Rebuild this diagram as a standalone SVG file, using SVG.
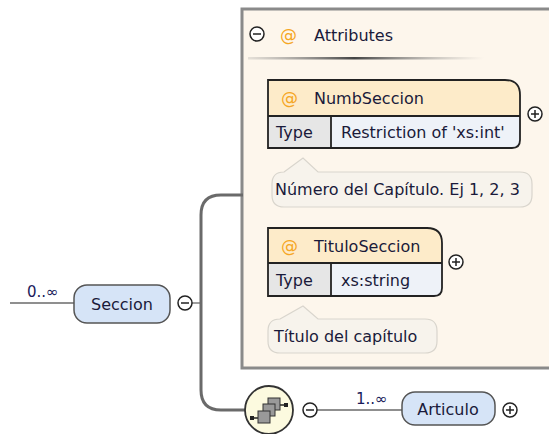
<svg xmlns="http://www.w3.org/2000/svg" width="549" height="434" viewBox="0 0 549 434">
  <defs>
    <style>
      .t { font-family: "DejaVu Sans", Verdana, sans-serif; font-size: 16px; fill: #1a1a3a; }
      .ann { font-family: "DejaVu Sans", Verdana, sans-serif; font-size: 16px; fill: #1a1a3a; }
      .at { font-family: "DejaVu Sans", Verdana, sans-serif; font-size: 17px; fill: #f5a623; }
      .card { font-family: "DejaVu Sans", Verdana, sans-serif; font-size: 15px; fill: #1a1a5a; }
      .conn { fill: none; stroke: #6a6a6a; stroke-width: 3; }
      .thin { fill: none; stroke: #6a6a6a; stroke-width: 1.3; }
      .node { fill: #d6e4f7; stroke: #555; stroke-width: 1.5; }
      .tog { fill: #fff; stroke: #222; stroke-width: 1.5; }
      .togl { stroke: #222; stroke-width: 1.5; }
      .hdr { fill: #fdebc9; }
      .typek { fill: #e6e6e6; }
      .typev { fill: #eef2f8; }
      .frame { fill: none; stroke: #222; stroke-width: 1.8; }
      .bubble { fill: #f7f3ec; stroke: #d9d5cd; stroke-width: 1.2; }
      .sq { fill: #999; stroke: #333; stroke-width: 1; }
    </style>
    <linearGradient id="sep" x1="0" x2="1" y1="0" y2="0">
      <stop offset="0" stop-color="#888" stop-opacity="0.2"/>
      <stop offset="0.45" stop-color="#444"/>
      <stop offset="1" stop-color="#999" stop-opacity="0"/>
    </linearGradient>
  </defs>

  <rect width="549" height="434" fill="#ffffff"/>

  <!-- attribute group panel -->
  <g id="attributes">
    <rect x="242" y="9" width="312" height="359" fill="#fdf6ec" stroke="#8a8a8a" stroke-width="3"/>
    <circle class="tog" cx="257" cy="34" r="7"/>
    <line class="togl" x1="253" y1="34" x2="261" y2="34"/>
    <text class="at" x="280" y="41">@</text>
    <text class="t" x="314" y="41">Attributes</text>
    <rect x="248" y="57" width="236" height="2.5" fill="url(#sep)"/>
  </g>

  <!-- connectors -->
  <g id="connectors">
    <line class="thin" x1="10" y1="303" x2="74" y2="303"/>
    <line class="thin" x1="192" y1="303" x2="201" y2="303"/>
    <path class="conn" d="M243 195 H221 Q201 195 201 215 V390 Q201 410 221 410 H245"/>
    <line class="thin" x1="317" y1="410" x2="402" y2="410"/>
  </g>

  <!-- Seccion element -->
  <g id="seccion">
    <text class="card" x="27" y="297">0..∞</text>
    <rect class="node" x="74" y="285" width="96" height="38" rx="13"/>
    <text class="t" x="122" y="310" text-anchor="middle">Seccion</text>
    <circle class="tog" cx="185" cy="303" r="7"/>
    <line class="togl" x1="181" y1="303" x2="189" y2="303"/>
  </g>

  <!-- NumbSeccion attribute -->
  <g id="numbseccion">
    <path class="hdr" d="M268 80 H505 Q520 80 520 95 V116 H268 Z"/>
    <rect class="typek" x="268" y="116" width="63" height="32"/>
    <path class="typev" d="M331 116 H520 V140 Q520 148 512 148 H331 Z"/>
    <path class="frame" d="M268 80 H505 Q520 80 520 95 V140 Q520 148 512 148 H268 Z"/>
    <line class="frame" x1="268" y1="116" x2="520" y2="116"/>
    <line class="frame" x1="331" y1="116" x2="331" y2="148"/>
    <text class="at" x="281" y="104">@</text>
    <text class="t" x="314" y="104">NumbSeccion</text>
    <text class="t" x="276" y="138">Type</text>
    <text class="t" x="341" y="138">Restriction of 'xs:int'</text>
    <circle class="tog" cx="535" cy="114" r="7"/>
    <line class="togl" x1="531" y1="114" x2="539" y2="114"/>
    <line class="togl" x1="535" y1="110" x2="535" y2="118"/>
    <path class="bubble" d="M284 172 L303 158 L318 172 H520 Q532 172 532 184 V195 Q532 207 520 207 H284 Q272 207 272 195 V184 Q272 172 284 172 Z"/>
    <text class="ann" x="275" y="195">Número del Capítulo. Ej 1, 2, 3</text>
  </g>

  <!-- TituloSeccion attribute -->
  <g id="tituloseccion">
    <path class="hdr" d="M268 228 H427 Q442 228 442 243 V263 H268 Z"/>
    <rect class="typek" x="268" y="263" width="63" height="33"/>
    <path class="typev" d="M331 263 H442 V288 Q442 296 434 296 H331 Z"/>
    <path class="frame" d="M268 228 H427 Q442 228 442 243 V288 Q442 296 434 296 H268 Z"/>
    <line class="frame" x1="268" y1="263" x2="442" y2="263"/>
    <line class="frame" x1="331" y1="263" x2="331" y2="296"/>
    <text class="at" x="281" y="252">@</text>
    <text class="t" x="314" y="252">TituloSeccion</text>
    <text class="t" x="276" y="286">Type</text>
    <text class="t" x="341" y="286">xs:string</text>
    <circle class="tog" cx="456" cy="262" r="7"/>
    <line class="togl" x1="452" y1="262" x2="460" y2="262"/>
    <line class="togl" x1="456" y1="258" x2="456" y2="266"/>
    <path class="bubble" d="M280 319 L303 306 L318 319 H425 Q437 319 437 331 V341 Q437 353 425 353 H280 Q268 353 268 341 V331 Q268 319 280 319 Z"/>
    <text class="ann" x="274" y="342">Título del capítulo</text>
  </g>

  <!-- sequence compositor -->
  <g id="sequence">
    <circle cx="269" cy="410" r="24" fill="#fcfadf" stroke="#333" stroke-width="1.8"/>
    <line x1="252" y1="418" x2="258" y2="418" stroke="#222" stroke-width="1.5"/>
    <line x1="280" y1="405" x2="286" y2="405" stroke="#222" stroke-width="1.5"/>
    <rect x="250" y="416" width="4" height="4" fill="#222"/>
    <rect x="284" y="403" width="4" height="4" fill="#222"/>
    <rect class="sq" x="268" y="398" width="12" height="12"/>
    <rect class="sq" x="263" y="404" width="12" height="12"/>
    <rect class="sq" x="258" y="411" width="12" height="12"/>
    <circle class="tog" cx="310" cy="410" r="7"/>
    <line class="togl" x1="306" y1="410" x2="314" y2="410"/>
  </g>

  <!-- Articulo element -->
  <g id="articulo">
    <text class="card" x="356" y="404">1..∞</text>
    <rect class="node" x="402" y="392" width="93" height="33" rx="13"/>
    <text class="t" x="448" y="415" text-anchor="middle">Articulo</text>
    <circle class="tog" cx="510" cy="410" r="7"/>
    <line class="togl" x1="506" y1="410" x2="514" y2="410"/>
    <line class="togl" x1="510" y1="406" x2="510" y2="414"/>
  </g>
</svg>
